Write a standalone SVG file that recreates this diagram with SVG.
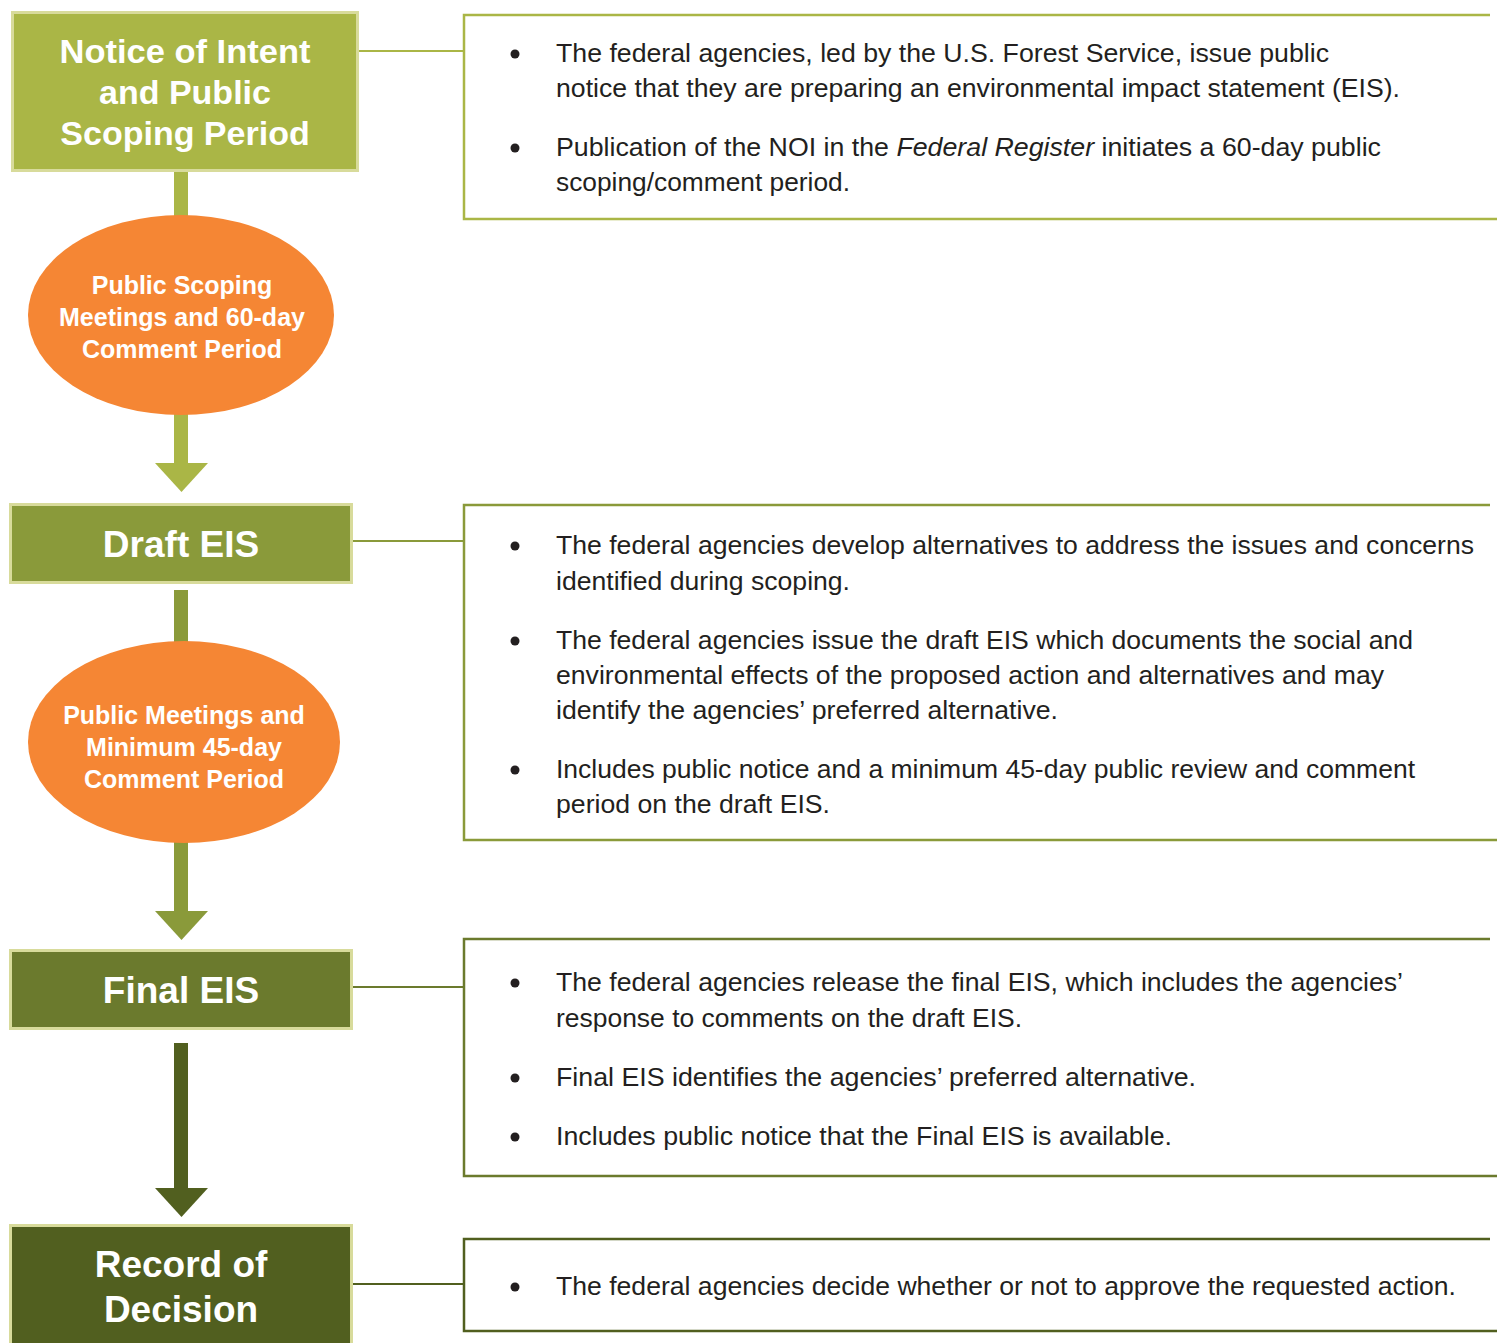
<svg xmlns="http://www.w3.org/2000/svg" width="1501" height="1343" viewBox="0 0 1501 1343">
<style>
.t{font-family:"Liberation Sans",Arial,sans-serif;font-size:26px;fill:#231f20}
.h{font-family:"Liberation Sans",Arial,sans-serif;font-weight:bold;fill:#fff;text-anchor:middle}
.e{font-family:"Liberation Sans",Arial,sans-serif;font-weight:bold;fill:#fff;text-anchor:middle;font-size:25px}
.b{fill:#231f20}
</style>
<rect width="1501" height="1343" fill="#fff"/>
<g id="connectors">
<rect x="174" y="168" width="14" height="50" fill="#AAB646"/>
<rect x="174" y="410" width="14" height="56" fill="#AAB646"/>
<polygon points="155,463 208,463 181.5,492" fill="#AAB646"/>
<rect x="174" y="590" width="14" height="53" fill="#8A9A3A"/>
<rect x="174" y="840" width="14" height="73" fill="#8A9A3A"/>
<polygon points="155,911 208,911 181.5,940" fill="#8A9A3A"/>
<rect x="174" y="1043" width="14" height="147" fill="#515F1F"/>
<polygon points="155,1188 208,1188 181.5,1217" fill="#515F1F"/>
<line x1="359" y1="51" x2="464" y2="51" stroke="#AAB646" stroke-width="2"/>
<line x1="353" y1="541" x2="464" y2="541" stroke="#8A9A3A" stroke-width="2"/>
<line x1="353" y1="987" x2="464" y2="987" stroke="#6B7A2D" stroke-width="2"/>
<line x1="353" y1="1284" x2="464" y2="1284" stroke="#515F1F" stroke-width="2"/>
</g>
<g id="noi">
<rect x="12.5" y="12.5" width="345" height="158" fill="#AAB646" stroke="#D8DB9B" stroke-width="3"/>
<text class="h" font-size="34" x="185" y="63" textLength="251" lengthAdjust="spacingAndGlyphs">Notice of Intent</text>
<text class="h" font-size="34" x="185" y="104">and Public</text>
<text class="h" font-size="34" x="185" y="145">Scoping Period</text>
</g>
<g id="scoping-meetings">
<ellipse cx="181" cy="315" rx="153" ry="100" fill="#F58634"/>
<text class="e" x="182" y="294">Public Scoping</text>
<text class="e" x="182" y="326">Meetings and 60-day</text>
<text class="e" x="182" y="358">Comment Period</text>
</g>
<g id="draft">
<rect x="10.5" y="504.5" width="341" height="78" fill="#8A9A3A" stroke="#D8DB9B" stroke-width="3"/>
<text class="h" font-size="37" x="181" y="557">Draft EIS</text>
</g>
<g id="draft-meetings">
<ellipse cx="184" cy="742" rx="156" ry="101" fill="#F58634"/>
<text class="e" x="184" y="724">Public Meetings and</text>
<text class="e" x="184" y="756">Minimum 45-day</text>
<text class="e" x="184" y="788">Comment Period</text>
</g>
<g id="final">
<rect x="10.5" y="950.5" width="341" height="78" fill="#6B7A2D" stroke="#D8DB9B" stroke-width="3"/>
<text class="h" font-size="37" x="181" y="1003">Final EIS</text>
</g>
<g id="rod">
<rect x="10.5" y="1225.5" width="341" height="130" fill="#515F1F" stroke="#D8DB9B" stroke-width="3"/>
<text class="h" font-size="37" x="181" y="1277">Record of</text>
<text class="h" font-size="37" x="181" y="1322">Decision</text>
</g>
<g id="noi-desc">
<path d="M1490,15 H464 V219 H1497" fill="none" stroke="#AAB646" stroke-width="2.5"/>
<circle class="b" cx="515" cy="54" r="4.5"/>
<circle class="b" cx="515" cy="148" r="4.5"/>
<text class="t" x="556" y="62" textLength="773" lengthAdjust="spacingAndGlyphs">The federal agencies, led by the U.S. Forest Service, issue public</text>
<text class="t" x="556" y="97" textLength="844" lengthAdjust="spacingAndGlyphs">notice that they are preparing an environmental impact statement (EIS).</text>
<text class="t" x="556" y="156" textLength="825" lengthAdjust="spacingAndGlyphs">Publication of the NOI in the <tspan font-style="italic">Federal Register</tspan> initiates a 60-day public</text>
<text class="t" x="556" y="191" textLength="294" lengthAdjust="spacingAndGlyphs">scoping/comment period.</text>
</g>
<g id="draft-desc">
<path d="M1490,505 H464 V840 H1497" fill="none" stroke="#8A9A3A" stroke-width="2.5"/>
<circle class="b" cx="515" cy="546" r="4.5"/>
<circle class="b" cx="515" cy="641" r="4.5"/>
<circle class="b" cx="515" cy="770" r="4.5"/>
<text class="t" x="556" y="554" textLength="918" lengthAdjust="spacingAndGlyphs">The federal agencies develop alternatives to address the issues and concerns</text>
<text class="t" x="556" y="590" textLength="294" lengthAdjust="spacingAndGlyphs">identified during scoping.</text>
<text class="t" x="556" y="649" textLength="857" lengthAdjust="spacingAndGlyphs">The federal agencies issue the draft EIS which documents the social and</text>
<text class="t" x="556" y="684" textLength="828" lengthAdjust="spacingAndGlyphs">environmental effects of the proposed action and alternatives and may</text>
<text class="t" x="556" y="719" textLength="502" lengthAdjust="spacingAndGlyphs">identify the agencies’ preferred alternative.</text>
<text class="t" x="556" y="778" textLength="859" lengthAdjust="spacingAndGlyphs">Includes public notice and a minimum 45-day public review and comment</text>
<text class="t" x="556" y="813" textLength="274" lengthAdjust="spacingAndGlyphs">period on the draft EIS.</text>
</g>
<g id="final-desc">
<path d="M1490,939 H464 V1176 H1497" fill="none" stroke="#6B7A2D" stroke-width="2.5"/>
<circle class="b" cx="515" cy="983" r="4.5"/>
<circle class="b" cx="515" cy="1078" r="4.5"/>
<circle class="b" cx="515" cy="1137" r="4.5"/>
<text class="t" x="556" y="991" textLength="847" lengthAdjust="spacingAndGlyphs">The federal agencies release the final EIS, which includes the agencies’</text>
<text class="t" x="556" y="1027" textLength="466" lengthAdjust="spacingAndGlyphs">response to comments on the draft EIS.</text>
<text class="t" x="556" y="1086" textLength="640" lengthAdjust="spacingAndGlyphs">Final EIS identifies the agencies’ preferred alternative.</text>
<text class="t" x="556" y="1145" textLength="616" lengthAdjust="spacingAndGlyphs">Includes public notice that the Final EIS is available.</text>
</g>
<g id="rod-desc">
<path d="M1490,1239 H464 V1331 H1497" fill="none" stroke="#515F1F" stroke-width="2.5"/>
<circle class="b" cx="515" cy="1287" r="4.5"/>
<text class="t" x="556" y="1295" textLength="900" lengthAdjust="spacingAndGlyphs">The federal agencies decide whether or not to approve the requested action.</text>
</g>
</svg>
